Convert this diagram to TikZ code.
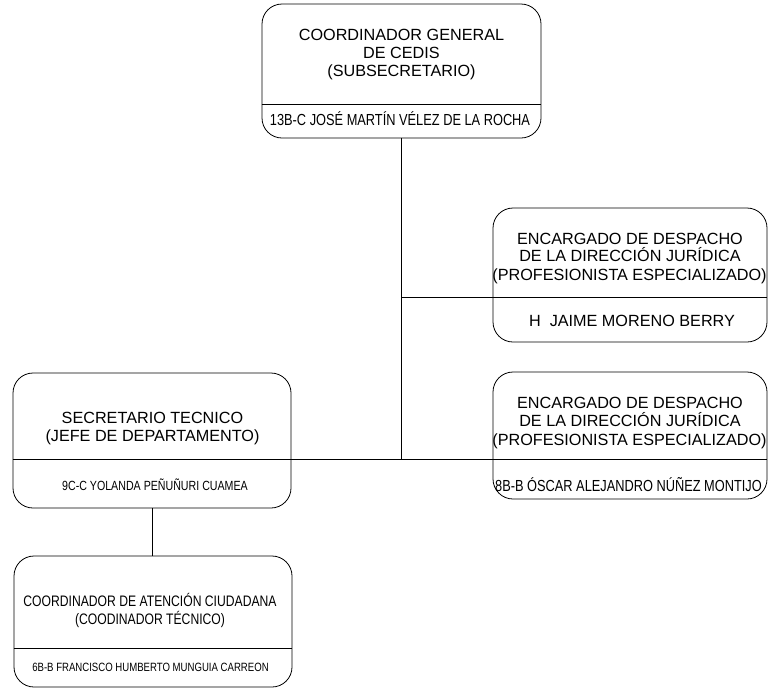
\documentclass[tikz,border=0pt]{standalone}
\usepackage{fontspec}
\setmainfont{Liberation Sans}
\newfontfamily\narfont[FakeStretch=0.8]{Liberation Sans}
\begin{document}
\begin{tikzpicture}[x=1pt,y=-1pt,
  box/.style={draw=black,line width=0.8pt,rounded corners=20pt,inner sep=0pt},
  conn/.style={draw=black,line width=0.8pt},
  lbl/.style={anchor=base,inner sep=0pt,text=black},
  ttl/.style={lbl,font=\fontsize{16.2}{18}\selectfont},
  nmbig/.style={lbl,font=\narfont\fontsize{16}{18}\selectfont},
  nmsmall/.style={lbl,font=\narfont\fontsize{13.3}{15}\selectfont},
  ttlnar/.style={lbl,font=\narfont\fontsize{15.2}{17}\selectfont},
  nmtiny/.style={lbl,font=\narfont\fontsize{12}{14}\selectfont}]
\useasboundingbox (0,0) rectangle (768,689);
\fill[white] (0,0) rectangle (768,689);

% boxes
\node[box,minimum width=279pt,minimum height=134pt] (b1) at (401.5,71) {};
\node[box,minimum width=274pt,minimum height=134pt] (b2) at (630,275) {};
\node[box,minimum width=274pt,minimum height=127pt] (b3) at (630,435.5) {};
\node[box,minimum width=278pt,minimum height=135pt] (b4) at (152,440.5) {};
\node[box,minimum width=278pt,minimum height=131pt] (b5) at (153,621.5) {};

% dividers inside boxes
\draw[conn] (b1.west |- 0,104) -- (b1.east |- 0,104);
\draw[conn] (b5.west |- 0,648) -- (b5.east |- 0,648);

% connectors
\coordinate (j1) at (401,297);
\coordinate (j2) at (401,459);
\draw[conn] (b1.south -| j1) -- (j2);
\draw[conn] (j1) -- (b2.east |- j1);
\draw[conn] (b4.west |- j2) -- (b3.east |- j2);
\draw[conn] (b4.south) -- (b4.south |- b5.north);

% box 1 texts
\node[ttl] (t1a) at (401.5,40.7) {COORDINADOR GENERAL};
\node[ttl] (t1b) at (401.5,58.3) {DE CEDIS};
\node[ttl] (t1c) at (401.5,76) {(SUBSECRETARIO)};
\node[nmbig] (n1) at (400,125.7) {13B-C JOSÉ MARTÍN VÉLEZ DE LA ROCHA};

% box 2 texts
\node[ttl] (t2a) at (630,244) {ENCARGADO DE DESPACHO};
\node[ttl] (t2b) at (630,261.7) {DE LA DIRECCIÓN JURÍDICA};
\node[ttl] (t2c) at (629.5,280) {(PROFESIONISTA ESPECIALIZADO)};
\node[ttl] (n2) at (632,326.7) {H\ \ JAIME MORENO BERRY};

% box 3 texts
\node[ttl] (t3a) at (630,408.3) {ENCARGADO DE DESPACHO};
\node[ttl] (t3b) at (630,426.7) {DE LA DIRECCIÓN JURÍDICA};
\node[ttl] (t3c) at (629.5,445) {(PROFESIONISTA ESPECIALIZADO)};
\node[nmbig] (n3) at (628.5,491.7) {8B-B ÓSCAR ALEJANDRO NÚÑEZ MONTIJO};

% box 4 texts
\node[ttl] (t4a) at (152.5,423.3) {SECRETARIO TECNICO};
\node[ttl] (t4b) at (152.5,441.7) {(JEFE DE DEPARTAMENTO)};
\node[nmsmall] (n4) at (155,490.7) {9C-C YOLANDA PEÑUÑURI CUAMEA};

% box 5 texts
\node[ttlnar] (t5a) at (150,606) {COORDINADOR DE ATENCIÓN CIUDADANA};
\node[ttlnar] (t5b) at (150,624) {(COODINADOR TÉCNICO)};
\node[nmtiny] (n5) at (150.5,671.5) {6B-B FRANCISCO HUMBERTO MUNGUIA CARREON};
\end{tikzpicture}
\end{document}
